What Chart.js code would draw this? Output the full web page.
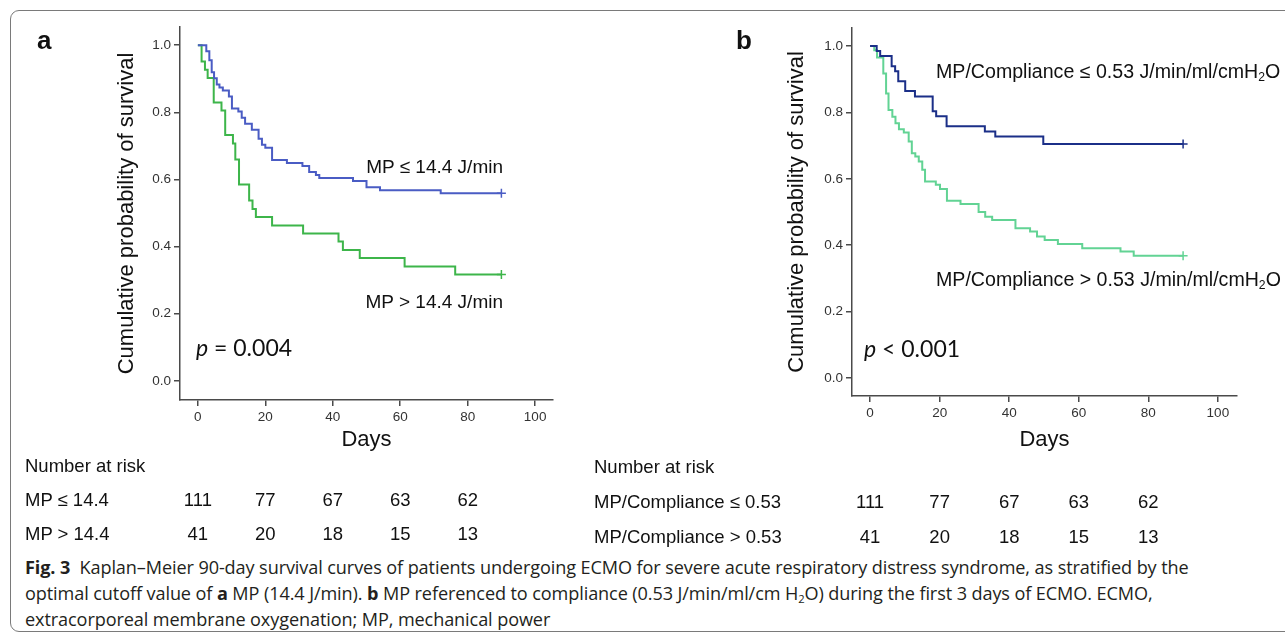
<!DOCTYPE html>
<html><head><meta charset="utf-8">
<script src="https://cdn.jsdelivr.net/npm/chart.js@4.4.1/dist/chart.umd.min.js"></script>
<style>
html,body{margin:0;padding:0;background:#fff;}
body{width:1285px;height:636px;position:relative;overflow:hidden;font-family:"Liberation Sans",Arial,sans-serif;color:#111;}
.frame{position:absolute;left:10px;top:10px;width:1320px;height:622px;border:1.5px solid #7a7a7a;border-radius:9px;box-sizing:border-box;}
canvas{position:absolute;}
.t{position:absolute;white-space:nowrap;line-height:1;}
.vc{transform:translateY(-50%);}
.rc{transform:translate(-100%,-50%);}
.cc{transform:translate(-50%,-50%);}
.lab{font-size:19px;}
.labb{font-size:19.6px;}
.pv{font-family:Lato,"Open Sans",sans-serif;font-size:23px;}
.pan{font-weight:bold;font-size:26px;}
.risk{font-size:18.5px;}
.cap{position:absolute;left:25px;top:554px;font-family:"Open Sans",sans-serif;font-size:18.1px;line-height:26px;color:#231f20;white-space:nowrap;letter-spacing:-0.1px;}
sub{font-size:0.62em;vertical-align:-0.25em;line-height:0;}
</style></head>
<body>
<div class="frame"></div>
<canvas id="ca" width="600" height="470" style="left:0;top:0"></canvas>
<canvas id="cb" width="625" height="470" style="left:660px;top:0"></canvas>

<div class="t pan vc" style="left:37px;top:40px">a</div>
<div class="t pan vc" style="left:736px;top:40px">b</div>

<div class="t lab rc" style="left:503px;top:166px">MP ≤ 14.4 J/min</div>
<div class="t lab rc" style="left:503px;top:301px">MP &gt; 14.4 J/min</div>
<div class="t pv vc" style="left:196px;top:347px"><i>p</i> = 0.004</div>

<div class="t labb vc" style="left:936px;top:72px">MP/Compliance ≤ 0.53 J/min/ml/cmH<sub>2</sub>O</div>
<div class="t labb vc" style="left:936px;top:280px">MP/Compliance &gt; 0.53 J/min/ml/cmH<sub>2</sub>O</div>
<div class="t pv vc" style="left:864px;top:348px"><i>p</i> &lt; 0.001</div>

<div class="t risk vc" style="left:25px;top:466px">Number at risk</div>
<div class="t risk vc" style="left:25px;top:500px">MP ≤ 14.4</div>
<div class="t risk vc" style="left:25px;top:534px">MP &gt; 14.4</div>
<div class="t risk vc" style="left:594px;top:467px">Number at risk</div>
<div class="t risk vc" style="left:594px;top:502px">MP/Compliance ≤ 0.53</div>
<div class="t risk vc" style="left:594px;top:537px">MP/Compliance &gt; 0.53</div>

<div class="cap"><b>Fig. 3</b>&nbsp; Kaplan–Meier 90-day survival curves of patients undergoing ECMO for severe acute respiratory distress syndrome, as stratified by the<br>optimal cutoff value of <b>a</b> MP (14.4 J/min). <b>b</b> MP referenced to compliance (0.53 J/min/ml/cm H<sub>2</sub>O) during the first 3 days of ECMO. ECMO,<br>extracorporeal membrane oxygenation; MP, mechanical power</div>

<script>
// ---- tick values ----
const xTicks = [0, 20, 40, 60, 80, 100];
const yTicks = [0, 0.2, 0.4, 0.6, 0.8, 1.0];

// ---- Panel a: MP <= 14.4 J/min ----
const daysA1 = [0, 2.5, 3.4, 4.1, 4.8, 5.6, 6.4, 7.4, 9.2, 10.1, 12, 13, 14, 16, 18, 19, 20, 22, 26.4, 31, 33, 35, 36, 46, 50, 54, 72, 90];
const survA1 = [1.0, 0.982, 0.955, 0.919, 0.901, 0.883, 0.874, 0.865, 0.847, 0.811, 0.802, 0.784, 0.766, 0.748, 0.721, 0.703, 0.694, 0.658, 0.649, 0.640, 0.622, 0.613, 0.604, 0.595, 0.577, 0.568, 0.559, 0.559];
// ---- Panel a: MP > 14.4 J/min ----
const daysA2 = [0, 1.1, 2.1, 2.9, 4.7, 7, 8.1, 10.4, 11.1, 12.2, 15.2, 16.2, 17.2, 22, 31.2, 41.7, 43, 48, 61.3, 76.3, 90];
const survA2 = [1.0, 0.951, 0.927, 0.902, 0.829, 0.805, 0.732, 0.707, 0.659, 0.585, 0.537, 0.512, 0.488, 0.463, 0.439, 0.415, 0.390, 0.366, 0.341, 0.317, 0.317];

// ---- Panel b: MP/Compliance <= 0.53 ----
const daysB1 = [0, 1.9, 2.9, 6.2, 7.2, 8.1, 10.1, 12.9, 18, 19, 22, 33, 36, 49.8, 90];
const survB1 = [1.0, 0.985, 0.970, 0.939, 0.924, 0.894, 0.864, 0.848, 0.803, 0.788, 0.758, 0.742, 0.727, 0.705, 0.705];
// ---- Panel b: MP/Compliance > 0.53 ----
const daysB2 = [0, 1.2, 2.0, 3.8, 4.6, 5.3, 6.4, 7.3, 8.3, 9.7, 11.1, 12, 13, 14, 15, 15.8, 18.9, 20.1, 22.1, 26, 31.2, 33.1, 35.1, 41.8, 46, 48, 50.2, 54, 61, 72, 75.8, 90];
const survB2 = [1.0, 0.987, 0.965, 0.917, 0.857, 0.807, 0.787, 0.767, 0.749, 0.739, 0.712, 0.677, 0.667, 0.652, 0.627, 0.592, 0.582, 0.569, 0.534, 0.524, 0.500, 0.486, 0.476, 0.451, 0.441, 0.426, 0.416, 0.404, 0.391, 0.381, 0.368, 0.368];

// ---- Number at risk ----
const riskDays = [0, 20, 40, 60, 80];
const riskA1 = [111, 77, 67, 63, 62];
const riskA2 = [41, 20, 18, 15, 13];
const riskB1 = [111, 77, 67, 63, 62];
const riskB2 = [41, 20, 18, 15, 13];

function pts(d, s) { return d.map((x, i) => ({ x: x, y: s[i] })); }

function ds(d, s, color) {
  const last = d.length - 1;
  return {
    data: pts(d, s), borderColor: color, backgroundColor: color, borderWidth: 2,
    stepped: 'before', fill: false,
    pointStyle: 'cross',
    pointRadius: c => c.dataIndex === last ? 4.5 : 0,
    pointBorderWidth: 1.5, pointBorderColor: color
  };
}

function makeChart(id, sets, cfg) {
  const axisColor = '#4a4a4a';
  const tickFont = { family: 'Liberation Sans', size: 13.5 };
  return new Chart(document.getElementById(id), {
    type: 'line',
    data: { datasets: sets },
    options: {
      responsive: false, animation: false,
      layout: { padding: cfg.pad },
      plugins: { legend: { display: false }, tooltip: { enabled: false } },
      scales: {
        x: {
          type: 'linear', min: cfg.xMin, max: cfg.xMax,
          afterBuildTicks: s => { s.ticks = xTicks.map(v => ({ value: v })); },
          afterFit: s => { s.height = cfg.xH; },
          ticks: { color: '#333', font: tickFont, padding: 3, maxRotation: 0 },
          grid: { display: true, drawOnChartArea: false, drawTicks: true, tickLength: 6, color: axisColor, lineWidth: 1.5 },
          border: { display: true, color: axisColor, width: 1.5 },
          title: { display: true, text: 'Days', color: '#111', font: { family: 'Liberation Sans', size: 22 }, padding: 0 }
        },
        y: {
          type: 'linear', min: cfg.yMin, max: cfg.yMax,
          afterBuildTicks: s => { s.ticks = yTicks.map(v => ({ value: v })); },
          afterFit: s => { s.width = cfg.yW; },
          ticks: { color: '#333', font: tickFont, padding: 3, callback: v => Number(v).toFixed(1) },
          grid: { display: true, drawOnChartArea: false, drawTicks: true, tickLength: 6, color: axisColor, lineWidth: 1.5 },
          border: { display: true, color: axisColor, width: 1.5 },
          title: { display: true, text: 'Cumulative probability of survival', color: '#111', font: { family: 'Liberation Sans', size: 22 }, padding: 0 }
        }
      }
    }
  });
}

const chartA = makeChart('ca', [ds(daysA1, survA1, '#4a5cc4'), ds(daysA2, survA2, '#3db54a')],
  { pad: { left: 114, top: 27, right: 47, bottom: 17 }, xMin: -5.3, xMax: 105.3, yMin: -0.057, yMax: 1.054, xH: 53, yW: 66 });
const chartB = makeChart('cb', [ds(daysB1, survB1, '#1b2f88'), ds(daysB2, survB2, '#62d394')],
  { pad: { left: 124, top: 28, right: 48, bottom: 17 }, xMin: -5.2, xMax: 105.5, yMin: -0.054, yMax: 1.054, xH: 57, yW: 68 });

function riskRow(chart, offsetLeft, values, top) {
  values.forEach((v, i) => {
    const el = document.createElement('div');
    el.className = 't risk cc';
    el.textContent = v;
    el.style.left = (offsetLeft + chart.scales.x.getPixelForValue(riskDays[i])) + 'px';
    el.style.top = top + 'px';
    document.body.appendChild(el);
  });
}
riskRow(chartA, 0, riskA1, 500);
riskRow(chartA, 0, riskA2, 534);
riskRow(chartB, 660, riskB1, 502);
riskRow(chartB, 660, riskB2, 537);
</script>
</body></html>
